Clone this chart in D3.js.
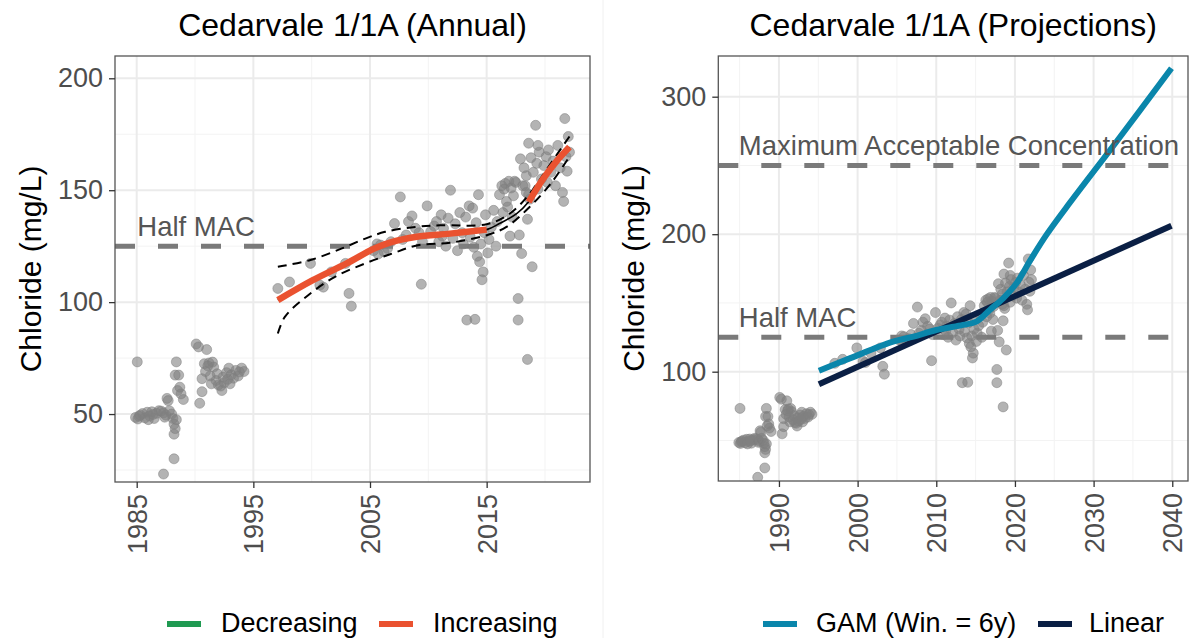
<!DOCTYPE html>
<html><head><meta charset="utf-8">
<script src="https://cdn.jsdelivr.net/npm/d3@7"></script>
<style>body{margin:0;background:#fff}svg{display:block}</style>
</head><body>
<svg id="c" width="1189" height="638"></svg>
<script>
// ---- data ----
const obsYears = [
1985.05,1984.9,1985.1,1985.3,1985.5,1985.7,1985.9,1986.1,1986.3,1986.5,1986.7,1986.9,1985.2,1986.0,1986.4,
1987.1,1987.3,1987.4,1987.5,1987.6,1987.7,1987.8,1988.0,1988.1,1988.2,1988.3,1988.2,
1988.4,1988.3,1988.6,1988.7,1988.8,1988.5,1989.0,1988.2,1987.3,1988.4,
1990.1,1990.3,1991.0,1990.6,1990.4,1990.6,1990.8,1991.2,1991.5,1990.9,1991.3,1991.6,1991.8,1992.0,1992.2,1992.4,
1992.5,1992.7,1992.9,1993.1,1993.3,1993.5,1993.7,1994.0,1994.2,1991.9,1992.3,1991.4,1993.0,1992.8,1991.1,1993.8,
1997.1,1998.1,1999.9,2000.7,2001.0,2001.7,2002.9,2003.2,2003.4,
2005.3,2005.6,2005.9,2006.2,2006.5,2006.8,2005.7,2007.1,2007.6,2007.8,
2008.3,2008.6,2008.9,2009.2,2009.5,2008.1,2009.4,2009.9,
2010.2,2010.5,2010.7,2010.9,2011.1,2011.3,2011.5,2011.7,2011.9,2011.2,
2012.1,2012.3,2012.5,2012.7,2012.9,2013.0,2013.2,2013.3,2014.0,2013.5,2013.8,2013.6,2013.9,2014.3,
2014.4,2014.6,2014.7,2014.2,2014.5,2014.8,2014.1,2014.9,2015.2,2015.4,2015.6,2015.8,2015.1,2015.9,
2016.1,2016.3,2016.5,2016.7,2016.9,2017.1,2017.3,2017.5,2016.4,2016.8,2017.2,2017.0,2017.7,2017.7,2017.8,
2018.0,2018.9,2018.5,2018.5,2018.3,2018.6,2018.2,2018.4,2018.8,2019.0,2019.2,2019.3,2019.5,2019.7,2019.9,
2020.1,2020.3,2020.5,2020.7,2020.9,2021.1,2021.3,2021.5,2021.7,2021.6,2021.8,2022.0,2022.1,2021.9,2020.2,2019.4,
2018.6,2019.4,2017.9,2016.6,2017.4,2018.1,2018.4,2018.7
];
const obsChloride = [
73.3,48.5,47.8,49.5,50.2,48.3,50.8,49.2,51.0,48.0,50.3,51.5,49.0,47.5,49.8,
51.3,50.5,48.6,49.5,57.0,56.0,51.5,50.0,48.0,45.5,43.5,41.0,
73.3,67.4,67.4,62.0,59.0,60.5,56.5,30.0,23.2,47.5,
81.3,80.0,78.8,60.0,54.8,65.8,72.5,72.8,73.2,69.0,67.0,71.0,65.0,63.0,62.5,66.5,
64.0,68.5,70.5,67.5,66.0,69.5,67.0,70.5,69.0,68.0,60.5,63.5,63.5,65.5,71.5,68.8,
106.1,109.0,117.3,107.6,106.7,113.5,117.3,103.9,98.2,
123.0,126.0,125.5,122.5,124.0,127.0,121.5,135.1,147.0,128.0,
136.0,138.5,133.0,131.0,127.0,130.0,108.0,143.0,
131.5,134.0,136.0,127.0,139.0,133.0,125.0,137.5,150.0,129.5,
128.5,135.0,123.0,140.0,131.0,126.0,138.0,92.0,92.3,143.0,142.0,129.0,124.5,148.0,
118.0,110.0,113.5,120.5,126.0,131.0,135.5,139.0,128.0,133.5,141.0,125.0,122.0,136.0,
148.0,152.0,150.5,145.0,154.0,151.0,147.5,153.5,140.0,142.5,138.0,129.5,101.6,92.0,130.0,
121.7,115.8,74.4,137.0,152.0,148.0,160.0,156.5,164.5,158.0,179.0,162.0,167.0,155.0,161.0,
165.0,168.0,158.0,163.0,152.0,170.0,160.0,149.0,182.0,145.0,165.0,174.0,167.0,158.5,153.5,150.5,
171.0,170.0,164.0,153.0,154.0,152.0,149.0,146.0
];

// GAM fit (annual panel)
const fitYears = [1997.1,2000.1,2003.0,2005.3,2006.7,2009.0,2011.85,2015.0,2016.1,2017.6,2018.6,2019.9,2021.0,2022.1];
const fitValues = [100.9,109.8,117.3,123.8,126.6,129.2,130.6,132.4,135.1,139.6,144.8,155.5,163.0,169.3];
const sigStart = [1997.1, 2018.6];   // significantly increasing periods
const sigEnd   = [2015.0, 2022.1];
const ciUpYears = [1997.1,1999.9,2002.6,2004.6,2006.3,2008.9,2011.0,2015.0,2017.0,2018.7,2020.3,2022.1];
const ciUpValues = [115.8,118.8,124.0,128.4,131.4,133.6,134.3,134.8,139.6,148.5,160.5,174.0];
const ciLoYears = [1997.1,1997.7,1999.7,2002.0,2004.6,2006.9,2009.1,2011.85,2015.0,2016.7,2018.7,2020.5,2022.1];
const ciLoValues = [86.0,93.4,103.1,111.3,117.3,121.7,125.4,126.5,129.9,133.6,142.6,153.0,165.0];

// Projections panel
const gamYears = [1995.08,1999.0,2004.5,2007.1,2010.0,2013.4,2015.1,2016.8,2018.5,2020.2,2022.0,2024.0,2027.0,2033.0,2039.9];
const gamValues = [100.7,109.7,121.8,125.5,130.3,134.0,136.4,144.9,153.4,164.3,181.5,199.5,223.0,268.0,320.7];
const linYears = [1995.08, 2039.9];
const linValues = [90.8, 206.2];

const leftXTicks = [1985,1995,2005,2015];
const leftXMinor = [1990,2000,2010,2020];
const leftYTicks = [50,100,150,200];
const leftYMinor = [25,75,125,175];
const rightXTicks = [1990,2000,2010,2020,2030,2040];
const rightXMinor = [1985,1995,2005,2015,2025,2035];
const rightYTicks = [100,200,300];
const rightYMinor = [50,150,250];

const titles = ["Cedarvale 1/1A (Annual)", "Cedarvale 1/1A (Projections)"];
const yTitle = "Chloride (mg/L)";
const refValues = [125, 250];
const refLabels = ["Half MAC", "Maximum Acceptable Concentration"];
const legendLeft = ["Decreasing", "Increasing"];
const legendRight = ["GAM (Win. = 6y)", "Linear"];

// ---- styles ----
const FONT = "'Liberation Sans', Arial, sans-serif";
const C_RED = "#ea5230", C_GREEN = "#1f9a52", C_TEAL = "#0a86ab", C_NAVY = "#0a1f44";

const svg = d3.select("#c");
svg.append("rect").attr("width",1189).attr("height",638).attr("fill","#fff");
svg.append("line").attr("x1",603).attr("x2",603).attr("y1",0).attr("y2",638)
  .attr("stroke","#f0f0f0").attr("stroke-width",1);

function panel(cfg){
  const x = d3.scaleLinear().domain(cfg.xd).range([cfg.x0,cfg.x1]);
  const y = d3.scaleLinear().domain(cfg.yd).range([cfg.y1,cfg.y0]);
  const g = svg.append("g");
  const clipId = "clip"+cfg.id;
  svg.append("clipPath").attr("id",clipId).append("rect")
    .attr("x",cfg.x0).attr("y",cfg.y0).attr("width",cfg.x1-cfg.x0).attr("height",cfg.y1-cfg.y0);
  const pg = g.append("g").attr("clip-path",`url(#${clipId})`);
  // grid
  pg.selectAll(".mx").data(cfg.xMinor).join("line").attr("x1",d=>x(d)).attr("x2",d=>x(d))
    .attr("y1",cfg.y0).attr("y2",cfg.y1).attr("stroke","#f3f3f3").attr("stroke-width",1);
  pg.selectAll(".my").data(cfg.yMinor).join("line").attr("y1",d=>y(d)).attr("y2",d=>y(d))
    .attr("x1",cfg.x0).attr("x2",cfg.x1).attr("stroke","#f3f3f3").attr("stroke-width",1);
  pg.selectAll(".Mx").data(cfg.xTicks).join("line").attr("x1",d=>x(d)).attr("x2",d=>x(d))
    .attr("y1",cfg.y0).attr("y2",cfg.y1).attr("stroke","#ebebeb").attr("stroke-width",2);
  pg.selectAll(".My").data(cfg.yTicks).join("line").attr("y1",d=>y(d)).attr("y2",d=>y(d))
    .attr("x1",cfg.x0).attr("x2",cfg.x1).attr("stroke","#ebebeb").attr("stroke-width",2);
  // ref lines
  cfg.refs.forEach((r,i)=>{
    pg.append("line").attr("x1",cfg.x0).attr("x2",cfg.x1).attr("y1",y(r)).attr("y2",y(r))
      .attr("stroke","#7a7a7a").attr("stroke-width",5).attr("stroke-dasharray","20,23");
  });
  // points
  pg.selectAll(".pt").data(obsYears.map((d,i)=>[d,obsChloride[i]])).join("circle")
    .attr("cx",d=>x(d[0])).attr("cy",d=>y(d[1])).attr("r",5)
    .attr("fill","#808080").attr("fill-opacity",0.6)
    .attr("stroke","#808080").attr("stroke-opacity",0.5).attr("stroke-width",1);
  cfg.draw(pg,x,y);
  // ref labels
  cfg.refs.forEach((r,i)=>{
    g.append("text").attr("x",x(cfg.labelX)).attr("y",y(r)-10).text(cfg.refLabels[i])
      .attr("font-family",FONT).attr("font-size",27.5).attr("fill","#555");
  });
  // border
  g.append("rect").attr("x",cfg.x0).attr("y",cfg.y0).attr("width",cfg.x1-cfg.x0).attr("height",cfg.y1-cfg.y0)
    .attr("fill","none").attr("stroke","#555").attr("stroke-width",1.3);
  // axes
  const ax = g.append("g").attr("transform",`translate(0,${cfg.y1})`)
    .call(d3.axisBottom(x).tickValues(cfg.xTicks).tickFormat(d3.format("d")).tickSize(6).tickPadding(6));
  ax.select(".domain").remove();
  ax.selectAll("line").attr("stroke","#333").attr("stroke-width",1.3);
  ax.selectAll("text").attr("font-family",FONT).attr("font-size",27).attr("fill","#4d4d4d")
    .attr("transform","rotate(-90)").attr("text-anchor","end").attr("dy","0.35em")
    .attr("x",-12).attr("y",0);
  const ay = g.append("g").attr("transform",`translate(${cfg.x0},0)`)
    .call(d3.axisLeft(y).tickValues(cfg.yTicks).tickSize(6).tickPadding(6));
  ay.select(".domain").remove();
  ay.selectAll("line").attr("stroke","#333").attr("stroke-width",1.3);
  ay.selectAll("text").attr("font-family",FONT).attr("font-size",27).attr("fill","#4d4d4d");
  // titles
  g.append("text").attr("x",(cfg.x0+cfg.x1)/2).attr("y",36).attr("text-anchor","middle")
    .attr("font-family",FONT).attr("font-size",32).attr("fill","#000").text(cfg.title);
  g.append("text").attr("transform",`translate(${cfg.yTitleX},${(cfg.y0+cfg.y1)/2}) rotate(-90)`)
    .attr("text-anchor","middle").attr("dy","0.35em")
    .attr("font-family",FONT).attr("font-size",30).attr("fill","#000").text(yTitle);
  // legend
  cfg.legend.forEach((l,i)=>{
    g.append("rect").attr("x",l.sx).attr("y",621).attr("width",34).attr("height",6).attr("fill",l.c);
    g.append("text").attr("x",l.tx).attr("y",632).attr("font-family",FONT).attr("font-size",27)
      .attr("fill","#000").text(l.t);
  });
}

const lineGen = (x,y)=>d3.line().x(d=>x(d[0])).y(d=>y(d[1])).curve(d3.curveCatmullRom.alpha(0.5));
const zip = (a,b)=>a.map((d,i)=>[d,b[i]]);

panel({
  id:"L", x0:115, x1:590, y0:56, y1:482, xd:[1983.14,2023.86], yd:[19.64,209.96],
  xTicks:leftXTicks, xMinor:leftXMinor, yTicks:leftYTicks, yMinor:leftYMinor,
  refs:[refValues[0]], refLabels:[refLabels[0]], labelX:1985.05,
  title:titles[0], yTitleX:30,
  legend:[{sx:167,tx:221,c:C_GREEN,t:legendLeft[0]},{sx:379,tx:433,c:C_RED,t:legendLeft[1]}],
  draw:(pg,x,y)=>{
    const fit = zip(fitYears,fitValues);
    const lg = lineGen(x,y);
    pg.append("path").attr("d",lg(zip(ciUpYears,ciUpValues))).attr("fill","none")
      .attr("stroke","#000").attr("stroke-width",2).attr("stroke-dasharray","9,6");
    pg.append("path").attr("d",lg(zip(ciLoYears,ciLoValues))).attr("fill","none")
      .attr("stroke","#000").attr("stroke-width",2).attr("stroke-dasharray","9,6");
    pg.append("path").attr("d",lg(fit)).attr("fill","none").attr("stroke","#000").attr("stroke-width",1.6);
    sigStart.forEach((s,i)=>{
      const seg = fit.filter(d=>d[0]>=s-1e-6 && d[0]<=sigEnd[i]+1e-6);
      pg.append("path").attr("d",lg(seg)).attr("fill","none").attr("stroke",C_RED)
        .attr("stroke-width",6.5).attr("stroke-linecap","butt");
    });
  }
});

panel({
  id:"R", x0:718.3, x1:1188, y0:56, y1:481, xd:[1982.29,2042.0], yd:[20.5,329.6],
  xTicks:rightXTicks, xMinor:rightXMinor, yTicks:rightYTicks, yMinor:rightYMinor,
  refs:refValues, refLabels:refLabels, labelX:1984.9,
  title:titles[1], yTitleX:633,
  legend:[{sx:763,tx:816,c:C_TEAL,t:legendRight[0]},{sx:1038,tx:1089,c:C_NAVY,t:legendRight[1]}],
  draw:(pg,x,y)=>{
    const lg = lineGen(x,y);
    pg.append("path").attr("d",lg(zip(linYears,linValues))).attr("fill","none")
      .attr("stroke",C_NAVY).attr("stroke-width",6);
    pg.append("path").attr("d",lg(zip(gamYears,gamValues))).attr("fill","none")
      .attr("stroke",C_TEAL).attr("stroke-width",6);
  }
});
</script>
</body></html>
